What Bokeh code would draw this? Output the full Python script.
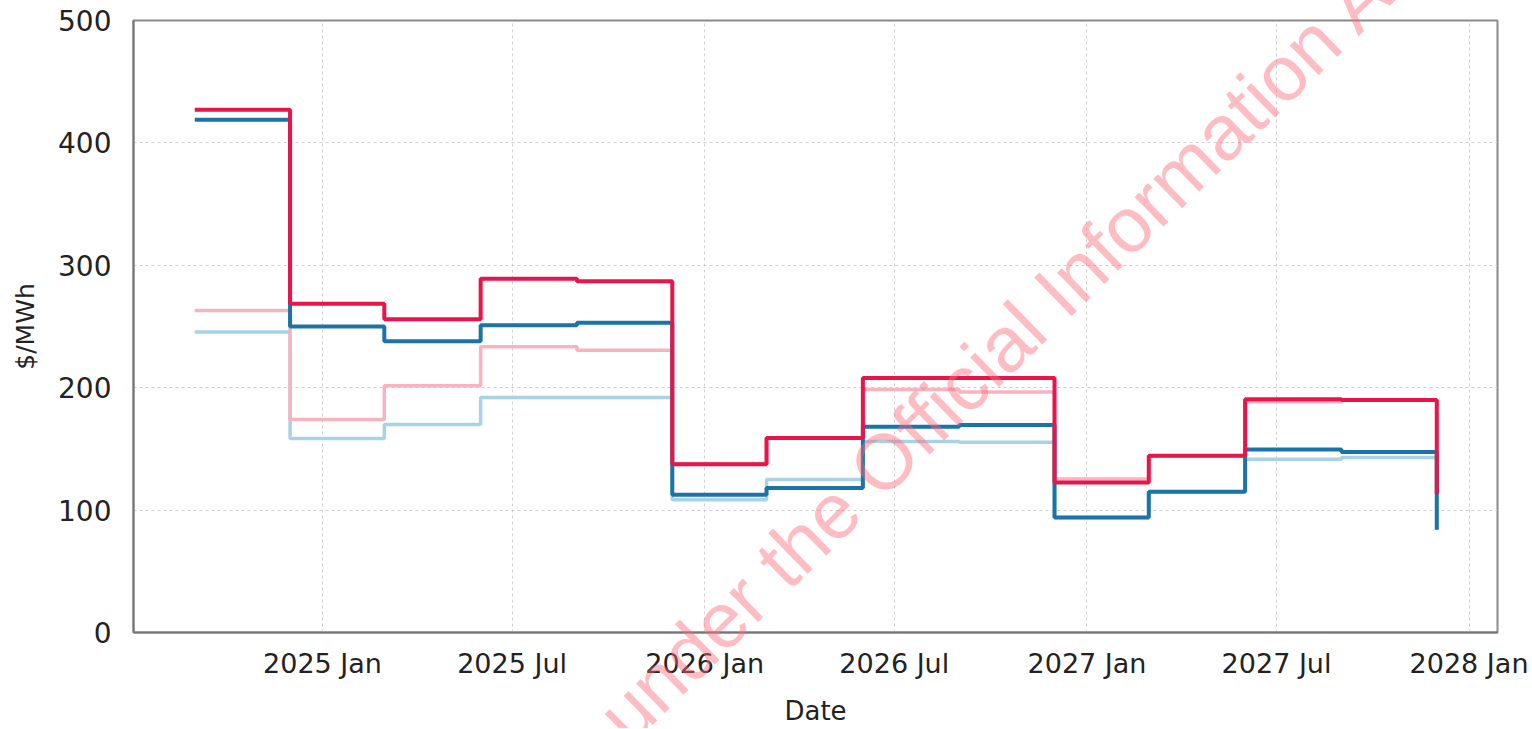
from datetime import datetime
import pandas as pd
from bokeh.plotting import figure
from bokeh.layouts import column
from bokeh.models import Range1d, FixedTicker, ColumnDataSource, Div
from bokeh.embed import file_html
from bokeh.resources import INLINE

# ---- data ----
dates = ["2024-09-01", "2024-12-01", "2025-03-01", "2025-06-01", "2025-09-01",
         "2025-12-01", "2026-03-01", "2026-06-01", "2026-09-01", "2026-12-01",
         "2027-03-01", "2027-06-01", "2027-09-01", "2027-12-01"]
red_dark = [427, 268.5, 256, 289, 287, 137.5, 159, 208, 208, 122.5, 144.5, 190.5, 190, 113]
blue_dark = [419, 250, 238, 251, 253, 112.5, 118, 168, 169.5, 94, 115, 149.5, 147.5, 84]
red_light = [263, 174, 201.5, 233.5, 230.5, 138, 159, 198.5, 196.5, 125.5, 144.5, 188.5, 190, 113]
blue_light = [245.5, 158.5, 170, 192, 192, 108.5, 125, 156, 155.5, 94, 115, 141.5, 143, 84]

tick_dates = ["2025-01-01", "2025-07-01", "2026-01-01", "2026-07-01",
              "2027-01-01", "2027-07-01", "2028-01-01"]
tick_labels = ["2025 Jan", "2025 Jul", "2026 Jan", "2026 Jul",
               "2027 Jan", "2027 Jul", "2028 Jan"]
y_ticks = [0, 100, 200, 300, 400, 500]

watermark = "under the Official Information Act"

# ---- figure ----
def ms(s):
    return int(pd.Timestamp(s).value // 10**6)

W, H = 1528, 728
x = pd.to_datetime(dates)
src = ColumnDataSource(dict(x=x, rd=red_dark, bd=blue_dark, rl=red_light, bl=blue_light))

fig = figure(width=W, height=H, output_backend="svg", toolbar_location=None,
             x_axis_type="datetime",
             x_range=Range1d(datetime(2024, 7, 4, 12), datetime(2028, 1, 28)),
             y_range=Range1d(0, 500),
             min_border_left=133, min_border_right=31, min_border_top=20, min_border_bottom=94)
fig.background_fill_color = "white"
fig.border_fill_color = "white"
fig.outline_line_color = "#8a8a8a"
fig.outline_line_width = 2

fig.step("x", "bl", source=src, mode="after", line_color="#A9D2E5", line_width=3.5)
fig.step("x", "rl", source=src, mode="after", line_color="#F7B4C0", line_width=3.5)
fig.step("x", "bd", source=src, mode="after", line_color="#1A74A8", line_width=4)
fig.step("x", "rd", source=src, mode="after", line_color="#E8144A", line_width=4)

tick_ms = [ms(t) for t in tick_dates]
xa = fig.xaxis[0]
ya = fig.yaxis[0]
xa.ticker = FixedTicker(ticks=tick_ms)
xa.major_label_overrides = {t: l for t, l in zip(tick_ms, tick_labels)}
fig.xgrid[0].ticker = FixedTicker(ticks=tick_ms)
ya.ticker = FixedTicker(ticks=y_ticks)

for g in (fig.xgrid[0], fig.ygrid[0]):
    g.grid_line_color = "#cfcfcf"
    g.grid_line_dash = "3 3"
    g.grid_line_width = 1

for ax in (xa, ya):
    ax.axis_line_color = "#777777"
    ax.axis_line_width = 2
    ax.major_tick_line_color = None
    ax.minor_tick_line_color = None
    ax.major_tick_in = 0
    ax.major_tick_out = 0
    ax.major_label_text_font = "DejaVu Sans"
    ax.major_label_text_color = "#222222"
    ax.axis_label_text_font = "DejaVu Sans"
    ax.axis_label_text_font_style = "normal"
    ax.axis_label_text_color = "#222222"

xa.major_label_text_font_size = "27px"
ya.major_label_text_font_size = "28px"
xa.axis_label = "Date"
xa.axis_label_text_font_size = "26px"
xa.major_label_standoff = 15
xa.axis_label_standoff = 14
ya.axis_label = "$/MWh"
ya.axis_label_text_font_size = "25px"
ya.major_label_standoff = 22
ya.axis_label_standoff = 15

# watermark stamp laid over the whole chart (not clipped to the plot frame)
wm_html = ('<div style="position:absolute; left:630px; top:681px; '
           'transform-origin:0px 66px; transform:rotate(-44.3deg); white-space:nowrap; '
           "font-family:'Liberation Sans', Arial, sans-serif; font-size:78px; line-height:78px; "
           'color:rgba(255,107,120,0.45); pointer-events:none;">' + watermark + '</div>')
div = Div(text=wm_html, width=W, height=H, margin=(-H, 0, 0, 0),
          styles={"position": "relative", "z-index": "10", "overflow": "hidden",
                  "pointer-events": "none"})

p = column(fig, div, spacing=0)

open("out.html", "w").write(file_html(p, INLINE))
